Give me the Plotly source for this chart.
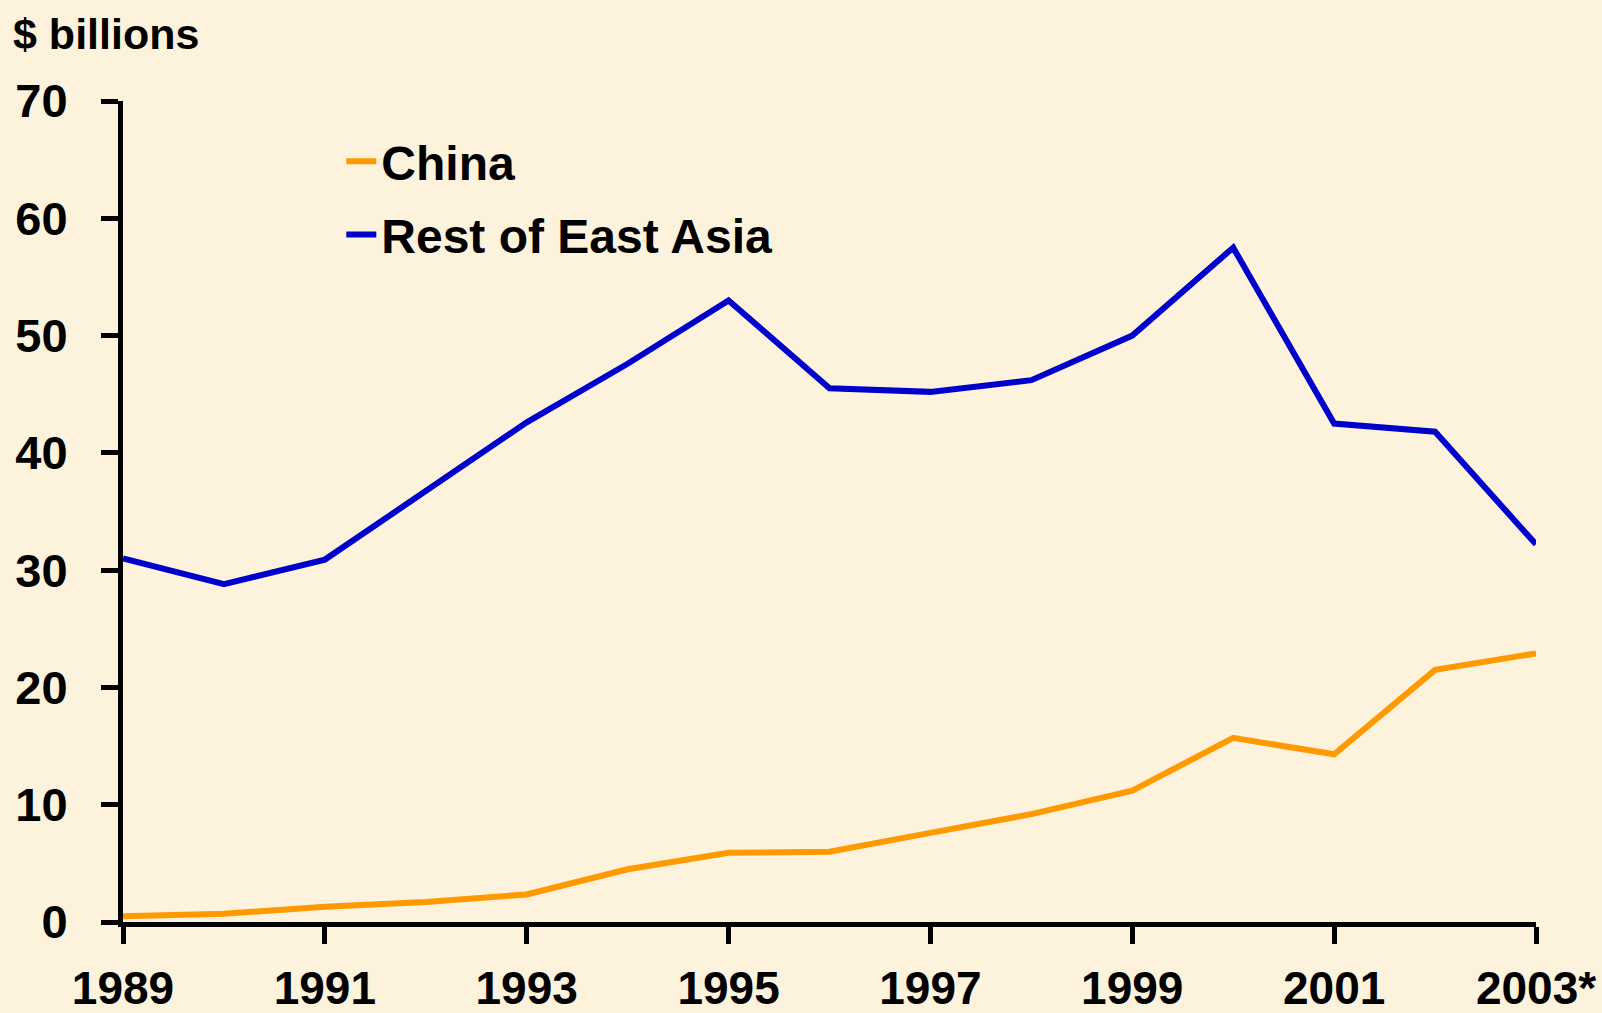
import plotly.graph_objects as go

years = list(range(1989, 2004))
china = [0.5, 0.7, 1.3, 1.7, 2.35, 4.5, 5.9, 6.0, 7.6, 9.2, 11.2, 15.7, 14.3, 21.5, 22.9]
rest_east_asia = [31.0, 28.8, 30.9, 36.8, 42.6, 47.6, 53.0, 45.5, 45.2, 46.2, 50.0, 57.5, 42.5, 41.8, 32.2]
x_tickvals = [1989, 1991, 1993, 1995, 1997, 1999, 2001, 2003]
x_ticktext = ["1989", "1991", "1993", "1995", "1997", "1999", "2001", "2003*"]
y_tickvals = [0, 10, 20, 30, 40, 50, 60, 70]

BG = "#FDF2DB"
FONT = "Liberation Sans, Arial, sans-serif"

fig = go.Figure()
fig.add_trace(go.Scatter(x=years, y=china, mode="lines", name="China",
                         line=dict(color="#FF9900", width=6), legendgroup="a"))
fig.add_trace(go.Scatter(x=years, y=rest_east_asia, mode="lines", name="Rest of East Asia",
                         line=dict(color="#0000CC", width=6), legendgroup="b"))

fig.update_layout(
    width=1602, height=1013,
    margin=dict(l=123, r=66, t=101, b=91),
    paper_bgcolor=BG, plot_bgcolor=BG,
    font=dict(family=FONT, color="black", size=46),
    showlegend=True,
    legend=dict(x=0.1545, y=0.9726, xanchor="left", yanchor="top",
                bgcolor="rgba(0,0,0,0)", tracegroupgap=8,
                font=dict(size=48, family=FONT, color="black", weight="bold")),
    xaxis=dict(range=[1989, 2003], tickvals=x_tickvals, ticktext=x_ticktext,
               automargin=False,
               showgrid=False, zeroline=False, showline=True, linecolor="black", linewidth=5,
               ticks="outside", ticklen=17, tickwidth=5, tickcolor="black",
               tickfont=dict(size=46, family=FONT, color="black", weight="bold"),
               ticklabelstandoff=5),
    yaxis=dict(range=[0, 70], tickvals=y_tickvals, automargin=False,
               showgrid=False, zeroline=False, showline=True, linecolor="black", linewidth=5,
               ticks="outside", ticklen=17, tickwidth=5, tickcolor="black",
               tickfont=dict(size=47, family=FONT, color="black", weight="bold"),
               ticklabelstandoff=24),
    annotations=[dict(text="$ billions", xref="paper", yref="paper",
                      x=-0.079, y=1.082, xanchor="left", yanchor="middle", showarrow=False,
                      font=dict(size=43, family=FONT, color="black", weight="bold"))],
)

fig.write_html("out.html", config={"displayModeBar": False},
               post_script="document.body.style.margin='0px';document.body.style.overflow='hidden';")
